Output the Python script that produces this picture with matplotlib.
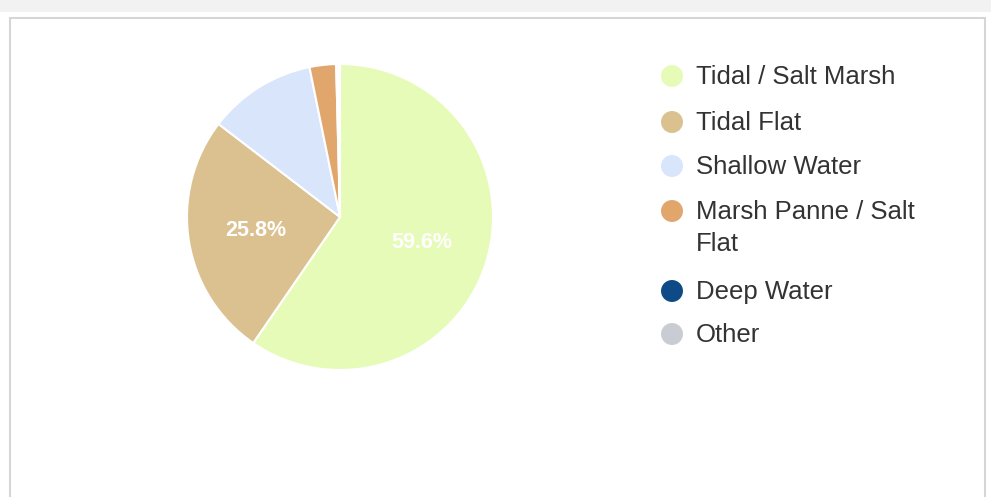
import matplotlib
matplotlib.use('Agg')
import matplotlib.pyplot as plt
from matplotlib.patches import Rectangle

# 土地覆盖类型占比 (%)
categories = ['Tidal / Salt Marsh', 'Tidal Flat', 'Shallow Water',
              'Marsh Panne / Salt\nFlat', 'Deep Water', 'Other']
shares = [59.6, 25.8, 11.4, 2.8, 0.2, 0.2]
colors = ['#e6fbb8', '#dcc190', '#d8e5fb', '#e0a66c', '#0e4a86', '#c9cdd3']

W, H = 991, 497
fig = plt.figure(figsize=(W / 100, H / 100), dpi=100)
fig.patch.set_facecolor('white')

# 面板边框
frame = fig.add_axes([0, 0, 1, 1])
frame.set_xlim(0, W)
frame.set_ylim(H, 0)
frame.axis('off')
frame.add_patch(Rectangle((10, 18), 975, 490, facecolor='white',
                          edgecolor='#d6d6d6', linewidth=1.5))
frame.add_patch(Rectangle((0, 0), W, 12, facecolor='#f2f2f2', edgecolor='none'))

# 饼图
cx, cy, r = 340, 217, 153
ax = fig.add_axes([(cx - r) / W, (H - cy - r) / H, 2 * r / W, 2 * r / H])


def pct_label(p):
    return f'{p:.1f}%' if p > 15 else ''


wedges, texts, autotexts = ax.pie(
    shares, colors=colors, startangle=90, counterclock=False,
    autopct=pct_label, pctdistance=0.56, radius=1.0,
    wedgeprops=dict(edgecolor='white', linewidth=1.5),
    textprops=dict(color='white', fontsize=15.5, fontweight='bold',
                   family=['Liberation Sans', 'DejaVu Sans']),
)
ax.set_xlim(-1, 1)
ax.set_ylim(-1, 1)
ax.axis('off')

# 图例
leg_x, txt_x = 672, 696
rows = [76, 122, 166, 211, 291, 334]
for y, name, c in zip(rows, categories, colors):
    frame.scatter([leg_x], [y], s=250, color=c, edgecolors='none')
    frame.text(txt_x, y - 11, name, fontsize=18.5, color='#333333',
               va='top', ha='left', linespacing=1.4,
               family=['Liberation Sans', 'DejaVu Sans'])

fig.savefig('out.png', dpi=100)
